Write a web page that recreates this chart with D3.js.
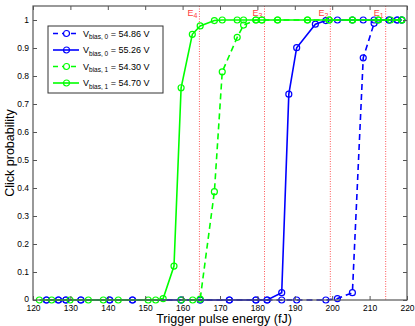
<!DOCTYPE html>
<html>
<head>
<meta charset="utf-8">
<script src="https://cdn.jsdelivr.net/npm/d3@7"></script>
<style>
  body { margin: 0; background: #fff; }
  svg { font-family: "Liberation Sans", Arial, Helvetica, sans-serif; }
  .tick-label { font-size: 8.5px; fill: #000; }
  .axis-title { font-size: 12.5px; fill: #000; }
</style>
</head>
<body>
<svg id="chart"></svg>
<script>
const energyBlueDash = [123.6, 126.8, 128.8, 132.8, 140.5, 146.6, 159.6, 164.7, 172.5, 179.6, 182.6, 186.5, 190.5, 198.3, 201.4, 205.4, 208.3, 211.2, 215.2, 217.4, 218.6]
const probBlueDash   = [0, 0, 0, 0, 0, 0, 0, 0, 0, 0, 0, 0, 0, 0, 0.005, 0.026, 0.865, 0.988, 1, 1, 1]

const energyBlueSolid = [123.6, 126.8, 128.8, 132.8, 140.5, 146.6, 159.6, 164.7, 172.5, 179.6, 182.6, 186.5, 188.4, 190.5, 195.5, 198.3, 201.4, 205.4, 208.3, 211.2, 215.2, 217.4, 218.6]
const probBlueSolid   = [0, 0, 0, 0, 0, 0, 0, 0, 0, 0, 0, 0.026, 0.735, 0.901, 0.985, 0.998, 1, 1, 1, 1, 1, 1, 1]

const energyGreenDash = [159.6, 162.7, 164.7, 168.5, 170.6, 174.6, 176.3, 179.6, 181.2, 185.4, 193.4, 199.2, 205.4, 212.3, 218.6]
const probGreenDash   = [0, 0, 0.003, 0.387, 0.815, 0.938, 0.982, 1, 1, 1, 1, 1, 1, 1, 1]

const energyGreenSolid = [121.7, 125, 129.9, 134.8, 138.8, 142.8, 150.8, 152.8, 154.8, 157.7, 159.6, 162.6, 164.7, 168.5, 170.6, 174.6, 176.3, 179.6, 181.2, 185.4, 193.4, 199.2, 205.4, 212.3, 215.6, 218.6]
const probGreenSolid   = [0, 0, 0, 0, 0, 0, 0, 0, 0.005, 0.121, 0.758, 0.949, 0.979, 0.998, 1, 1, 1, 1, 1, 1, 1, 1, 1, 1, 1, 1]

const seriesVoltage = ['54.86', '55.26', '54.30', '54.70']
const seriesIndex = ['0', '0', '1', '1']

// threshold energies E1..E4
const thresholdNames = ['1', '2', '3', '4']
const thresholdEnergy = [214.3, 199.5, 181.9, 164.5]

const xTicks = [120, 130, 140, 150, 160, 170, 180, 190, 200, 210, 220]
const yTicks = [0, 0.1, 0.2, 0.3, 0.4, 0.5, 0.6, 0.7, 0.8, 0.9, 1]

const W = 415, H = 326
const margin = {top: 6, right: 8, bottom: 26, left: 33}
const width = W - margin.left - margin.right
const height = H - margin.top - margin.bottom

const series = [
    {x: energyBlueDash, y: probBlueDash, color: '#0000ff', dash: '6,4'},
    {x: energyBlueSolid, y: probBlueSolid, color: '#0000ff', dash: null},
    {x: energyGreenDash, y: probGreenDash, color: '#00ff00', dash: '6,4'},
    {x: energyGreenSolid, y: probGreenSolid, color: '#00ff00', dash: null},
].map((s, i) => ({...s, volt: seriesVoltage[i], idx: seriesIndex[i],
    pts: s.x.map((e, j) => ({e, p: s.y[j]}))}))

const svg = d3.select('#chart').attr('width', W).attr('height', H)
const chart = svg.append('g').attr('transform', `translate(${margin.left},${margin.top})`)

const xScale = d3.scaleLinear().domain([120, 220]).range([0, width])
const yScale = d3.scaleLinear().domain([0, 1.05]).range([height, 0])

// threshold lines
const thr = chart.append('g')
thresholdEnergy.forEach((e, i) => {
    thr.append('line')
        .attr('x1', xScale(e)).attr('x2', xScale(e))
        .attr('y1', 0).attr('y2', height)
        .attr('stroke', '#ff2020').attr('stroke-opacity', 0.75)
        .attr('stroke-width', 1).attr('stroke-dasharray', '1,1.5')
    const t = thr.append('text')
        .attr('x', xScale(e) - 2).attr('y', 10)
        .attr('text-anchor', 'end')
        .attr('fill', '#ff4040').style('font-size', '9px')
    t.append('tspan').text('E')
    t.append('tspan').attr('dy', 1.5).style('font-size', '7px').text(thresholdNames[i])
})

const line = d3.line().x(d => xScale(d.e)).y(d => yScale(d.p))

series.forEach(s => {
    chart.append('path')
        .datum(s.pts)
        .attr('d', line)
        .attr('fill', 'none')
        .attr('stroke', s.color)
        .attr('stroke-width', 1.6)
        .attr('stroke-dasharray', s.dash)
    chart.append('g').selectAll('circle')
        .data(s.pts)
        .join('circle')
        .attr('cx', d => xScale(d.e))
        .attr('cy', d => yScale(d.p))
        .attr('r', 3)
        .attr('fill', 'none')
        .attr('stroke', s.color)
        .attr('stroke-width', 1.2)
})

// axes, matlab-ish box with inward ticks
const axisColor = '#555'
const xAxisB = d3.axisBottom(xScale).tickValues(xTicks).tickSizeInner(-4).tickSizeOuter(0)
const yAxisL = d3.axisLeft(yScale).tickValues(yTicks).tickSizeInner(-4).tickSizeOuter(0)
    .tickFormat(d => d === 0 ? '0' : d === 1 ? '1' : d3.format('.1f')(d))
const xAxisT = d3.axisTop(xScale).tickValues(xTicks).tickSizeInner(-4).tickSizeOuter(0).tickFormat('')
const yAxisR = d3.axisRight(yScale).tickValues(yTicks).tickSizeInner(-4).tickSizeOuter(0).tickFormat('')

const gx = chart.append('g').attr('transform', `translate(0,${height})`).call(xAxisB)
const gy = chart.append('g').call(yAxisL)
const gt = chart.append('g').call(xAxisT)
const gr = chart.append('g').attr('transform', `translate(${width},0)`).call(yAxisR)

;[gx, gy, gt, gr].forEach(g => {
    g.select('.domain').remove()
    g.selectAll('.tick line').attr('stroke', axisColor)
    g.selectAll('.tick text').attr('class', 'tick-label').attr('fill', '#000')
})
// ticks point inward, so put the labels just outside the box
gx.selectAll('.tick text').attr('y', 4.5)
gy.selectAll('.tick text').attr('x', -4)
gy.selectAll('.tick text').filter(d => d === 0).attr('dy', '0.2em')

chart.append('rect')
    .attr('width', width).attr('height', height)
    .attr('fill', 'none').attr('stroke', axisColor).attr('stroke-width', 1.2)

// axis titles
svg.append('text')
    .attr('class', 'axis-title')
    .attr('x', margin.left + width / 2 + 4)
    .attr('y', H - 3)
    .attr('text-anchor', 'middle')
    .text('Trigger pulse energy (fJ)')

svg.append('text')
    .attr('class', 'axis-title')
    .attr('transform', `translate(14,${margin.top + height / 2}) rotate(-90)`)
    .attr('text-anchor', 'middle')
    .text('Click probability')

// legend
const legend = chart.append('g').attr('transform', 'translate(15,20)')
legend.append('rect')
    .attr('width', 115).attr('height', 67)
    .attr('fill', '#fff').attr('stroke', '#333').attr('stroke-width', 1)

series.forEach((s, i) => {
    const row = legend.append('g').attr('transform', `translate(0,${7.5 + i * 16.5})`)
    row.append('line')
        .attr('x1', 5).attr('x2', 31)
        .attr('stroke', s.color).attr('stroke-width', 1.6)
        .attr('stroke-dasharray', s.dash ? '5,4' : null)
    row.append('circle')
        .attr('cx', 18.5).attr('r', 3)
        .attr('fill', s.dash ? '#fff' : 'none').attr('stroke', s.color).attr('stroke-width', 1.2)
    const t = row.append('text').attr('x', 35).attr('y', 3).style('font-size', '9px')
    t.append('tspan').text('V')
    t.append('tspan').attr('dy', 2.5).style('font-size', '6.5px').text(`bias, ${s.idx}`)
    t.append('tspan').attr('dy', -2.5).text(` = ${s.volt} V`)
})
</script>
</body>
</html>
